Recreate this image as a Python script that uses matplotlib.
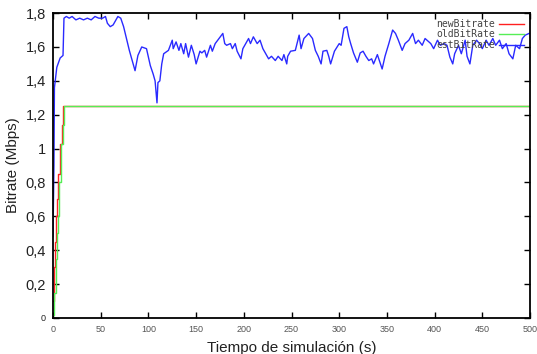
import matplotlib
matplotlib.use('Agg')
import matplotlib.pyplot as plt

# step series (bitrate decided by the controller), value holds until next time
new_t = [0, 1, 2, 3, 4, 5, 7, 9, 10.5, 500]
new_v = [0.1, 0.3, 0.45, 0.6, 0.7, 0.85, 1.03, 1.14, 1.25, 1.25]
old_t = [0, 1.5, 3, 4, 5, 6.5, 8.5, 10, 11.5, 500]
old_v = [0.02, 0.15, 0.35, 0.5, 0.6, 0.8, 1.03, 1.14, 1.25, 1.25]

# estimated bitrate
est_t = [0, 1, 1.5, 4, 7.5, 10.5, 11.5, 14, 17, 20, 24, 28, 32, 36, 40, 44, 48, 52, 55,
         57, 60, 63, 66, 68, 71, 74, 77, 80, 83, 86, 89, 93, 98, 102, 105, 107, 109, 110,
         112, 114, 116, 121, 125, 126, 129, 132, 134, 137, 139, 142, 145, 148, 150, 154,
         156, 159, 161, 165, 167, 170, 174, 178, 180, 182, 186, 188, 191, 193, 197, 199,
         202, 205, 207, 210, 214, 217, 220, 224, 226, 229, 233, 236, 240, 242, 245, 246,
         249, 254, 258, 260, 263, 268, 272, 275, 278, 281, 283, 287, 289, 291, 295, 300,
         302, 305, 308, 310, 312, 315, 319, 322, 325, 328, 331, 334, 336, 340, 345, 348,
         352, 356, 359, 362, 366, 369, 373, 377, 380, 383, 387, 390, 396, 399, 403, 406,
         410, 413, 416, 419, 421, 425, 428, 432, 434, 437, 440, 444, 447, 450, 454, 457,
         461, 464, 468, 471, 475, 478, 482, 485, 489, 492, 495, 499]
est_v = [0.48, 0.9, 1.36, 1.48, 1.535, 1.55, 1.77, 1.78, 1.77, 1.78, 1.76, 1.77, 1.76, 1.77,
         1.76, 1.78, 1.77, 1.77, 1.78, 1.74, 1.72, 1.73, 1.76, 1.78, 1.77, 1.72, 1.65, 1.58,
         1.52, 1.46, 1.55, 1.60, 1.59, 1.49, 1.44, 1.40, 1.27, 1.39, 1.40, 1.50, 1.56, 1.58,
         1.64, 1.59, 1.63, 1.58, 1.62, 1.56, 1.62, 1.54, 1.61, 1.555, 1.50, 1.575, 1.565,
         1.58, 1.54, 1.61, 1.575, 1.62, 1.65, 1.68, 1.62, 1.61, 1.62, 1.59, 1.62, 1.575,
         1.53, 1.59, 1.62, 1.65, 1.62, 1.66, 1.62, 1.64, 1.59, 1.55, 1.53, 1.545, 1.52,
         1.545, 1.52, 1.555, 1.50, 1.545, 1.575, 1.58, 1.67, 1.59, 1.65, 1.68, 1.65, 1.58,
         1.545, 1.50, 1.575, 1.58, 1.545, 1.50, 1.575, 1.62, 1.61, 1.71, 1.72, 1.66, 1.62,
         1.565, 1.51, 1.565, 1.575, 1.545, 1.52, 1.53, 1.50, 1.555, 1.47, 1.545, 1.62, 1.70,
         1.68, 1.64, 1.58, 1.62, 1.64, 1.68, 1.62, 1.64, 1.61, 1.65, 1.62, 1.59, 1.64, 1.61,
         1.62, 1.61, 1.54, 1.50, 1.56, 1.61, 1.56, 1.64, 1.545, 1.50, 1.61, 1.64, 1.62, 1.59,
         1.64, 1.61, 1.65, 1.61, 1.64, 1.59, 1.62, 1.56, 1.53, 1.61, 1.59, 1.65, 1.67, 1.68]

x_ticks = [0, 50, 100, 150, 200, 250, 300, 350, 400, 450, 500]
y_ticks = [0, 0.2, 0.4, 0.6, 0.8, 1.0, 1.2, 1.4, 1.6, 1.8]
y_labels = ['0', '0,2', '0,4', '0,6', '0,8', '1', '1,2', '1,4', '1,6', '1,8']

plt.rcParams['font.family'] = ['Liberation Sans', 'DejaVu Sans']

fig = plt.figure(figsize=(5.37, 3.54), dpi=100)
ax = fig.add_axes([0.0987, 0.1017, 0.8883, 0.8613])

ax.plot(new_t, new_v, drawstyle='steps-post', color='#ff2020', lw=1, label='newBitrate')
ax.plot(old_t, old_v, drawstyle='steps-post', color='#55ee55', lw=1, label='oldBitRate')
ax.plot(est_t, est_v, color='#2a2aff', lw=1, label='estBitRate')

ax.set_xlim(0, 500)
ax.set_ylim(0, 1.8)
ax.set_xticks(x_ticks)
ax.set_xticklabels([str(x) for x in x_ticks], fontsize=6.5, color='#555555')
ax.set_yticks(y_ticks)
ax.set_yticklabels(y_labels, fontsize=10.5, color='#222222')
ax.get_yticklabels()[0].set_fontsize(6.5)
ax.tick_params(direction='in', length=4, width=1, top=True, right=True, pad=5)
for s in ax.spines.values():
    s.set_linewidth(1.3)

ax.set_xlabel('Tiempo de simulación (s)', fontsize=11, color='#222222', labelpad=5)
ax.set_ylabel('Bitrate (Mbps)', fontsize=11, color='#222222', labelpad=4)

ax.legend(loc='upper right', frameon=False, markerfirst=False, handlelength=2.6,
          prop={'family': 'DejaVu Sans Mono', 'size': 7}, labelspacing=0.05,
          borderaxespad=0.2, handletextpad=0.4, labelcolor='#444444')

fig.savefig('out.png', dpi=100)
